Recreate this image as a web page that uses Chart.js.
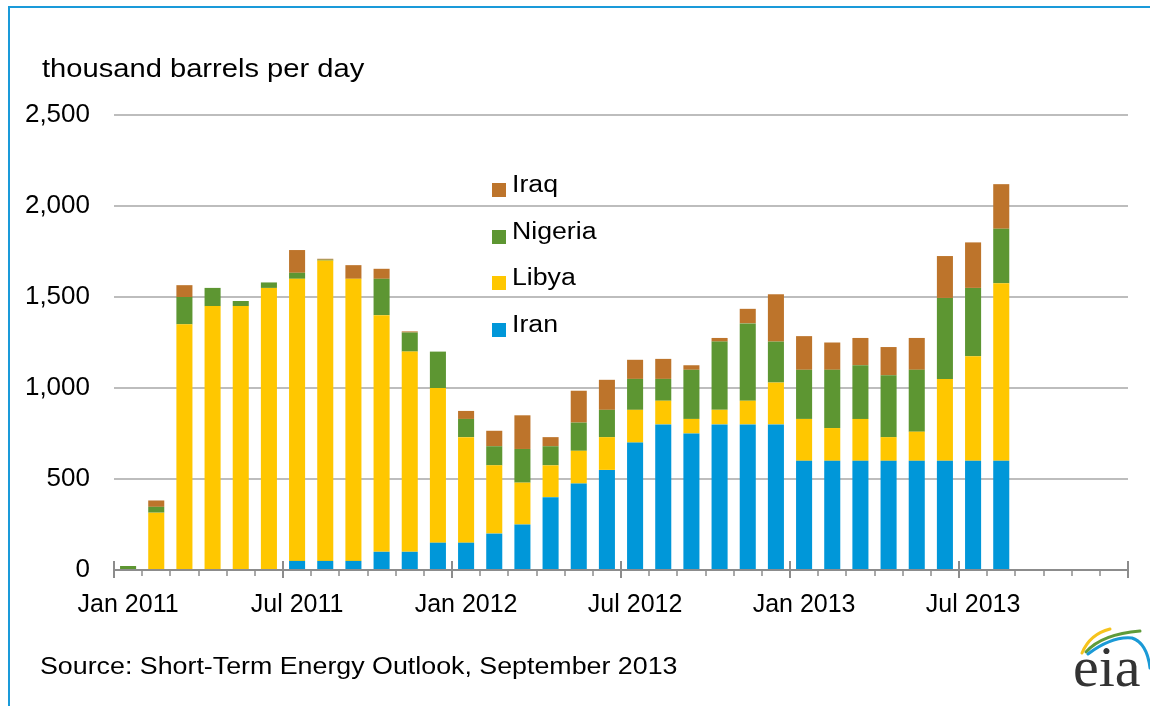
<!DOCTYPE html>
<html>
<head>
<meta charset="utf-8">
<script src="https://cdn.jsdelivr.net/npm/chart.js@4.4.1/dist/chart.umd.min.js"></script>
<style>
  html, body { margin: 0; padding: 0; background: #fff; }
  #wrap { position: relative; width: 1150px; height: 706px; overflow: hidden; font-family: "Liberation Sans", Arial, sans-serif; color: #000; }
  #frame { position: absolute; left: 8px; top: 6px; right: -4px; bottom: -4px; border-top: 2px solid #1a9ad9; border-left: 2px solid #1a9ad9; }
  canvas { position: absolute; left: 0; top: 0; }
  .txt { position: absolute; white-space: nowrap; transform-origin: 0 0; line-height: 1; }
  #unit { left: 42px; top: 56px; font-size: 25px; transform: scaleX(1.165); }
  #source { left: 40px; top: 655px; font-size: 23px; transform: scaleX(1.165); }
  .leg { position: absolute; left: 492px; }
  .leg i { position: absolute; left: 0; width: 14px; height: 14px; }
  .leg span { position: absolute; left: 20px; font-size: 23px; line-height: 1; white-space: nowrap; transform: scaleX(1.16); transform-origin: 0 0; }
  #logo { position: absolute; left: 1050px; top: 590px; }
</style>
</head>
<body>
<div id="wrap">
  <div id="frame"></div>
  <canvas id="chart" width="1150" height="706"></canvas>
  <div class="txt" id="unit">thousand barrels per day</div>
  <div id="legend"></div>
  <div class="txt" id="source">Source: Short-Term Energy Outlook, September 2013</div>
  <svg id="logo" width="100" height="116" viewBox="0 0 100 116">
    <path d="M32,63 Q40,44 60,39" fill="none" stroke="#f6c31c" stroke-width="3" stroke-linecap="round"/>
    <path d="M36,62 Q52,44 90,41" fill="none" stroke="#5f9b3a" stroke-width="3" stroke-linecap="round"/>
    <path d="M38,64 Q62,46 82,48 Q97,53 100,78" fill="none" stroke="#1b9ad6" stroke-width="3" stroke-linecap="round"/>
    <text x="23" y="96" font-family="Liberation Serif, Times New Roman, serif" font-size="58" fill="#333">eia</text>
  </svg>
</div>
<script>
// ─── Data (thousand barrels per day) ───
const months = [
  'Jan 2011', 'Feb 2011', 'Mar 2011', 'Apr 2011', 'May 2011', 'Jun 2011',
  'Jul 2011', 'Aug 2011', 'Sep 2011', 'Oct 2011', 'Nov 2011', 'Dec 2011',
  'Jan 2012', 'Feb 2012', 'Mar 2012', 'Apr 2012', 'May 2012', 'Jun 2012',
  'Jul 2012', 'Aug 2012', 'Sep 2012', 'Oct 2012', 'Nov 2012', 'Dec 2012',
  'Jan 2013', 'Feb 2013', 'Mar 2013', 'Apr 2013', 'May 2013', 'Jun 2013',
  'Jul 2013', 'Aug 2013', 'Sep 2013', 'Oct 2013', 'Nov 2013', 'Dec 2013',
];

const iran = [
  0, 0, 0, 0, 0, 0, 50, 50, 50, 100, 100, 150,
  150, 200, 250, 400, 475, 550, 700, 800, 750, 800, 800, 800,
  600, 600, 600, 600, 600, 600, 600, 600,
];
const libya = [
  0, 315, 1350, 1450, 1450, 1550, 1550, 1650, 1550, 1300, 1100, 850,
  580, 375, 230, 175, 180, 180, 180, 130, 80, 80, 130, 230,
  230, 180, 230, 130, 160, 450, 575, 975,
];
const nigeria = [
  22, 32, 150, 100, 28, 30, 33, 5, 0, 200, 105, 200,
  100, 105, 185, 105, 155, 150, 170, 120, 270, 375, 425, 225,
  270, 320, 295, 340, 340, 445, 375, 300,
];
const iraq = [
  0, 35, 65, 0, 0, 0, 125, 5, 75, 55, 6, 0,
  44, 85, 185, 50, 175, 165, 105, 110, 25, 20, 80, 260,
  185, 150, 150, 155, 175, 230, 250, 245,
];

const yTicks = [0, 500, 1000, 1500, 2000, 2500];

const series = [
  { label: 'Iran', data: iran, color: '#0097d9' },
  { label: 'Libya', data: libya, color: '#ffc700' },
  { label: 'Nigeria', data: nigeria, color: '#5d9632' },
  { label: 'Iraq', data: iraq, color: '#bd742b' },
];

// ─── Legend (top entry = top of stack) ───
const legendEl = document.getElementById('legend');
legendEl.innerHTML = series.slice().reverse().map((s, i) => `
  <div class="leg" style="top:${173 + i * 46.7}px;">
    <i style="top:10px;background:${s.color};"></i>
    <span>${s.label}</span>
  </div>
`).join('');

// ─── Month tick marks on the x axis ───
const monthTicks = {
  id: 'monthTicks',
  afterDraw(chart) {
    const x = chart.scales.x;
    const ctx = chart.ctx;
    const n = months.length;
    const step = (x.right - x.left) / n;
    const axisY = x.top;
    ctx.save();
    ctx.strokeStyle = '#8c8c8c';
    for (let i = 0; i <= n; i++) {
      const px = Math.round(x.left + i * step);
      const major = i % 6 === 0;
      ctx.lineWidth = major ? 2 : 1.5;
      ctx.beginPath();
      ctx.moveTo(px, major ? axisY - 9 : axisY);
      ctx.lineTo(px, axisY + (major ? 8 : 6));
      ctx.stroke();
    }
    ctx.restore();
  },
};

const tickFont = { family: '"Liberation Sans", Arial, sans-serif', size: 25 };

new Chart(document.getElementById('chart'), {
  type: 'bar',
  data: {
    labels: months,
    datasets: series.map(s => ({
      label: s.label,
      data: s.data,
      backgroundColor: s.color,
      borderWidth: 0,
      barPercentage: 0.57,
      categoryPercentage: 1,
    })),
  },
  options: {
    responsive: false,
    animation: false,
    devicePixelRatio: 1,
    layout: { padding: { left: 0, right: 22, top: 115, bottom: 86 } },
    plugins: {
      legend: { display: false },
      tooltip: { enabled: false },
    },
    scales: {
      x: {
        stacked: true,
        grid: { display: false, drawTicks: false },
        border: { display: true, color: '#8c8c8c', width: 2 },
        afterFit: scale => { scale.height = 50; },
        ticks: {
          autoSkip: false,
          maxRotation: 0,
          padding: 20,
          color: '#000',
          font: tickFont,
          callback: (v, i) => (i % 6 === 0 ? months[i] : ''),
        },
      },
      y: {
        stacked: true,
        min: yTicks[0],
        max: yTicks[yTicks.length - 1],
        afterFit: scale => { scale.width = 114; },
        afterBuildTicks: scale => { scale.ticks = yTicks.map(v => ({ value: v })); },
        grid: {
          drawTicks: false,
          lineWidth: 2,
          color: c => (c.tick && c.tick.value === 0 ? 'rgba(0,0,0,0)' : '#bdbdbd'),
        },
        border: { display: false },
        ticks: {
          padding: 24,
          color: '#000',
          font: { family: tickFont.family, size: 26 },
          callback: v => v.toLocaleString('en-US'),
        },
      },
    },
  },
  plugins: [monthTicks],
});
</script>
</body>
</html>
